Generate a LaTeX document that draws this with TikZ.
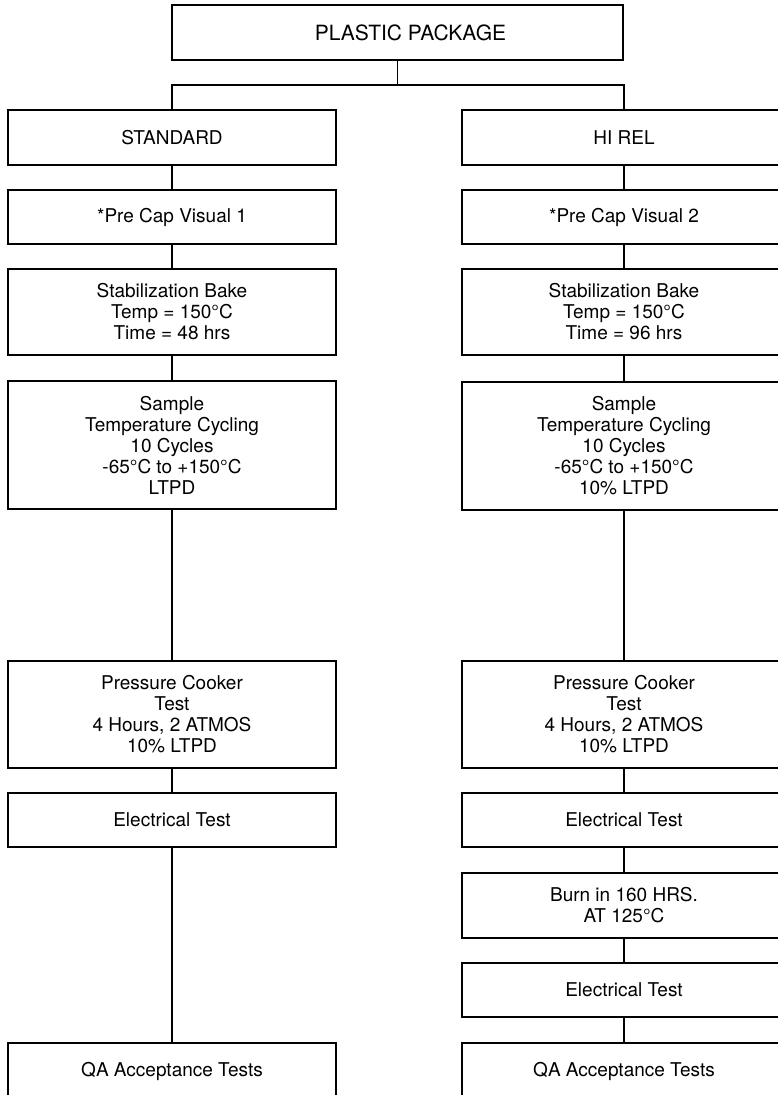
\documentclass[tikz,border=0pt]{standalone}
\usepackage{fontspec}
\setmainfont{TeX Gyre Heros}
\begin{document}
\begin{tikzpicture}[x=1pt,y=-1pt,
  box/.style={draw, rectangle, line width=1.6pt, inner sep=0pt, align=center,
    font=\fontsize{19}{21}\selectfont},
  lbox/.style={box, minimum width=328pt},
  rbox/.style={box, minimum width=324pt},
  conn/.style={line width=1.1pt}]
\clip (0,0) rectangle (778,1095);
\fill[white] (0,0) rectangle (778,1095);
% top
\node[box, minimum width=451pt, minimum height=55pt, font=\fontsize{21}{23}\selectfont] (top) at (397.5,32.5) {\hspace*{26pt}PLASTIC PACKAGE};
\coordinate (split) at (397.5,85);
% left column
\node[lbox, minimum height=55pt] (std) at (172,137.5) {STANDARD};
\node[lbox, minimum height=54pt] (pc1) at (172,217) {*Pre Cap Visual 1};
\node[lbox, minimum height=86pt] (sb1) at (172,312) {Stabilization Bake\\Temp = 150°C\\Time = 48 hrs};
\node[lbox, minimum height=128pt] (tc1) at (172,445) {Sample\\Temperature Cycling\\10 Cycles\\-65°C to +150°C\\LTPD};
\node[lbox, minimum height=107pt] (pk1) at (172,714.5) {Pressure Cooker\\Test\\4 Hours, 2 ATMOS\\10\% LTPD};
\node[lbox, minimum height=54pt] (et1) at (172,820) {Electrical Test};
\node[lbox, minimum height=58pt] (qa1) at (172,1072) {\raisebox{5pt}{QA Acceptance Tests}};
% right column
\node[rbox, minimum height=55pt] (hr) at (624,137.5) {HI REL};
\node[rbox, minimum height=54pt] (pc2) at (624,217) {*Pre Cap Visual 2};
\node[rbox, minimum height=86pt] (sb2) at (624,312) {Stabilization Bake\\Temp = 150°C\\Time = 96 hrs};
\node[rbox, minimum height=128pt] (tc2) at (624,446) {Sample\\Temperature Cycling\\10 Cycles\\-65°C to +150°C\\10\% LTPD};
\node[rbox, minimum height=107pt] (pk2) at (624,714.5) {Pressure Cooker\\Test\\4 Hours, 2 ATMOS\\10\% LTPD};
\node[rbox, minimum height=54pt] (et2) at (624,820) {Electrical Test};
\node[rbox, minimum height=65pt] (bi) at (624,905.5) {Burn in 160 HRS.\\AT 125°C};
\node[rbox, minimum height=54pt] (et3) at (624,990) {Electrical Test};
\node[rbox, minimum height=58pt] (qa2) at (624,1072) {\raisebox{5pt}{QA Acceptance Tests}};
% connectors
\draw[conn] (top.south) -- (split);
\draw[conn] (std.north) -- (std.north |- split) -- (hr.north |- split) -- (hr.north);
\draw[conn] (std) -- (pc1);
\draw[conn] (pc1) -- (sb1);
\draw[conn] (sb1) -- (tc1);
\draw[conn] (tc1) -- (pk1);
\draw[conn] (pk1) -- (et1);
\draw[conn] (et1) -- (qa1);
\draw[conn] (hr) -- (pc2);
\draw[conn] (pc2) -- (sb2);
\draw[conn] (sb2) -- (tc2);
\draw[conn] (tc2) -- (pk2);
\draw[conn] (pk2) -- (et2);
\draw[conn] (et2) -- (bi);
\draw[conn] (bi) -- (et3);
\draw[conn] (et3) -- (qa2);
\end{tikzpicture}
\end{document}
